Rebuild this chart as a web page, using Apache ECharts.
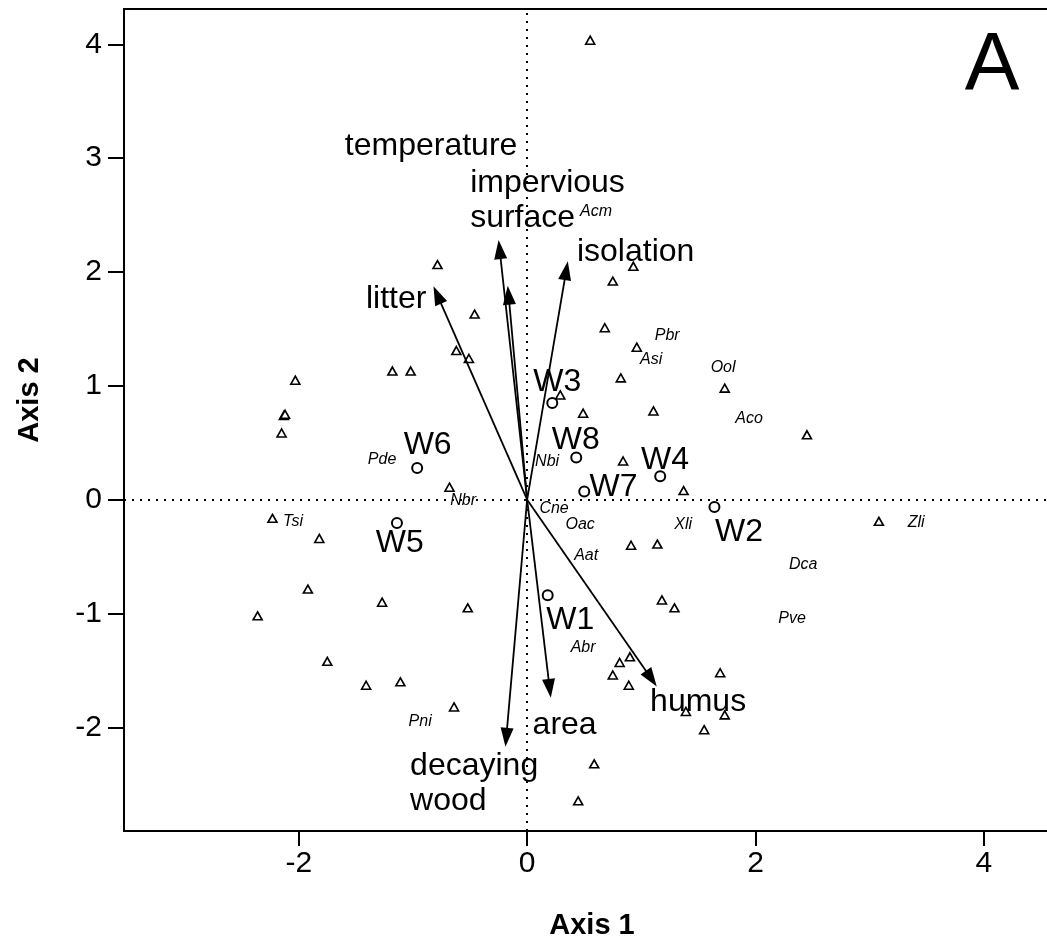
<!DOCTYPE html>
<html><head><meta charset="utf-8">
<script src="https://cdn.jsdelivr.net/npm/echarts@6/dist/echarts.min.js"></script>
<style>html,body{margin:0;padding:0;background:#fff}#c{width:1047px;height:942px}</style>
</head><body><div id="c"></div>
<script>
// ---- tick labels ----
const xTicks = [-2, 0, 2, 4];
const yTicks = [-2, -1, 0, 1, 2, 3, 4];

// ---- species (triangles) ----
const speciesX = [-0.785,-0.46,-0.62,-0.51,-1.18,-1.02,-2.03,-2.13,-2.12,-2.15,-0.68,-2.23,-1.82,-1.92,-2.36,-1.27,-0.52,-1.75,-1.41,-1.11,-0.64,
  0.552,0.93,0.75,0.68,0.96,0.82,1.73,0.29,0.49,1.106,2.45,0.84,1.37,3.08,0.91,1.14,1.18,1.29,0.90,0.81,0.75,0.89,1.69,1.39,1.73,1.55,0.587,0.447];
const speciesY = [2.065,1.63,1.31,1.24,1.13,1.13,1.05,0.74,0.75,0.586,0.11,-0.164,-0.34,-0.785,-1.02,-0.90,-0.95,-1.42,-1.63,-1.60,-1.82,
  4.036,2.05,1.92,1.51,1.34,1.07,0.98,0.92,0.76,0.78,0.57,0.34,0.08,-0.19,-0.40,-0.39,-0.88,-0.95,-1.38,-1.43,-1.54,-1.63,-1.52,-1.86,-1.89,-2.02,-2.32,-2.645];

// ---- species name labels ----
const speciesNames  = ['Acm','Pbr','Asi','Ool','Aco','Nbi','Cne','Oac','Xli','Zli','Aat','Dca','Pve','Abr','Pde','Nbr','Tsi','Pni'];
const speciesLabelX = [0.604,1.226,1.086,1.716,1.944,0.175,0.236,0.464,1.366,3.406,0.517,2.417,2.32,0.49,-1.27,-0.56,-2.05,-0.937];
const speciesLabelY = [2.53,1.44,1.23,1.16,0.71,0.334,-0.08,-0.22,-0.22,-0.20,-0.49,-0.57,-1.04,-1.30,0.35,-0.01,-0.19,-1.95];

// ---- sites (circles) ----
const siteNames  = ['W1','W2','W3','W4','W5','W6','W7','W8'];
const siteX      = [0.18,1.64,0.22,1.165,-1.14,-0.963,0.50,0.43];
const siteY      = [-0.84,-0.064,0.85,0.205,-0.205,0.278,0.073,0.37];
const siteLabelX = [0.377,1.856,0.263,1.208,-1.116,-0.871,0.757,0.425];
const siteLabelY = [-1.054,-0.281,1.028,0.351,-0.378,0.475,0.114,0.527];

// ---- environmental vectors (arrow tips) ----
const envNames  = ['impervious\nsurface','temperature','isolation','litter','decaying\nwood','area','humus'];
const envX      = [-0.25,-0.17,0.356,-0.82,-0.19,0.207,1.135];
const envY      = [2.28,1.88,2.094,1.875,-2.17,-1.74,-1.64];
const envLabelX = [-0.499,-0.841,0.95,-1.147,-1.025,0.328,1.497];
const envLabelY = [2.623,3.103,2.178,1.757,-2.495,-1.982,-1.775];

const FONT = '"Liberation Sans", Arial, Helvetica, sans-serif';
const leftAligned = {'impervious\nsurface': true, 'decaying\nwood': true};

const chart = echarts.init(document.getElementById('c'), null, {renderer: 'canvas'});

function textSeries(names, xs, ys, style) {
  return {
    type: 'custom', silent: true, z: 5,
    data: names.map((n, i) => [xs[i], ys[i], i]),
    renderItem: function (params, api) {
      const p = api.coord([api.value(0), api.value(1)]);
      const name = names[api.value(2)];
      return {
        type: 'text', x: p[0], y: p[1],
        style: Object.assign({
          text: name, fill: '#000',
          align: leftAligned[name] ? 'left' : 'center',
          verticalAlign: 'middle'
        }, style)
      };
    }
  };
}

const option = {
  backgroundColor: '#fff',
  animation: false,
  grid: {left: 124, top: 9, right: -4, bottom: 111, show: true, borderColor: '#000', borderWidth: 2,
         backgroundColor: 'transparent', outerBoundsMode: 'none', containLabel: false},
  xAxis: {
    type: 'value', min: -3.53, max: 4.587,
    axisLine: {show: false, onZero: false},
    splitLine: {show: false},
    axisTick: {show: true, inside: false, length: 15, lineStyle: {color: '#000', width: 2}, customValues: xTicks},
    axisLabel: {customValues: xTicks, color: '#000', fontSize: 30, fontFamily: FONT, margin: 18}
  },
  yAxis: {
    type: 'value', min: -2.91, max: 4.31,
    axisLine: {show: false, onZero: false},
    splitLine: {show: false},
    axisTick: {show: true, inside: false, length: 16, lineStyle: {color: '#000', width: 2}, customValues: yTicks},
    axisLabel: {customValues: yTicks, color: '#000', fontSize: 30, fontFamily: FONT, margin: 22}
  },
  graphic: [
    {type: 'text', x: 592, y: 926, style: {text: 'Axis 1', font: 'bold 29px ' + FONT, fill: '#000', align: 'center', verticalAlign: 'middle'}},
    {type: 'text', x: 30, y: 400, rotation: Math.PI / 2, style: {text: 'Axis 2', font: 'bold 29px ' + FONT, fill: '#000', align: 'center', verticalAlign: 'middle'}},
    {type: 'text', x: 992, y: 66, style: {text: 'A', font: '82px ' + FONT, fill: '#000', align: 'center', verticalAlign: 'middle'}}
  ],
  series: [
    {
      type: 'scatter', data: [], silent: true,
      markLine: {
        silent: true, symbol: 'none', animation: false,
        label: {show: false},
        lineStyle: {color: '#000', width: 2, type: [2, 6]},
        data: [{xAxis: 0}, {yAxis: 0}]
      }
    },
    {
      type: 'scatter', silent: true, z: 3,
      symbol: 'triangle', symbolSize: [9, 8],
      itemStyle: {color: '#fff', borderColor: '#000', borderWidth: 1.6, opacity: 1},
      data: speciesX.map((x, i) => [x, speciesY[i]])
    },
    {
      type: 'scatter', silent: true, z: 4,
      symbol: 'circle', symbolSize: 10,
      itemStyle: {color: '#fff', borderColor: '#000', borderWidth: 2, opacity: 1},
      data: siteX.map((x, i) => [x, siteY[i]])
    },
    {
      type: 'custom', silent: true, z: 6,
      data: envX.map((x, i) => [x, envY[i]]),
      renderItem: function (params, api) {
        const o = api.coord([0, 0]);
        const t = api.coord([api.value(0), api.value(1)]);
        const dx = t[0] - o[0], dy = t[1] - o[1];
        const L = Math.hypot(dx, dy);
        const ux = dx / L, uy = dy / L;
        const hl = 19, hw = 6.5;
        const bx = t[0] - ux * hl, by = t[1] - uy * hl;
        return {
          type: 'group', children: [
            {type: 'line', shape: {x1: o[0], y1: o[1], x2: bx + ux * 2, y2: by + uy * 2}, style: {stroke: '#000', lineWidth: 1.8}},
            {type: 'polygon', shape: {points: [[t[0], t[1]], [bx - uy * hw, by + ux * hw], [bx + uy * hw, by - ux * hw]]}, style: {fill: '#000'}}
          ]
        };
      }
    },
    textSeries(speciesNames, speciesLabelX, speciesLabelY, {font: 'italic 16px ' + FONT}),
    textSeries(siteNames, siteLabelX, siteLabelY, {font: '32px ' + FONT}),
    textSeries(envNames, envLabelX, envLabelY, {font: '32px ' + FONT, lineHeight: 35})
  ]
};
chart.setOption(option);
</script>
</body></html>
